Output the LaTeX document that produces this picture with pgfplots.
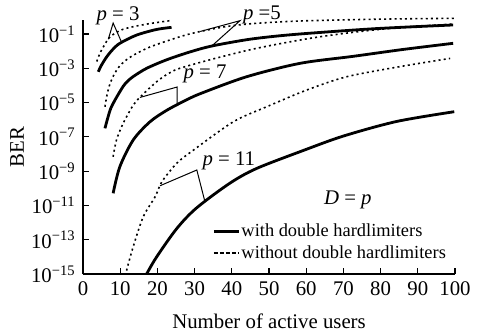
\documentclass[border=0pt]{standalone}
\usepackage{fontspec}
\setmainfont{Liberation Serif}
\usepackage{pgfplots}
\pgfplotsset{compat=1.18}
\newcommand{\tp}[1]{10\textsuperscript{#1}}
\newcommand{\fs}{\fontsize{10.4}{12.5}\selectfont}
\begin{document}
\fs
\begin{tikzpicture}
\useasboundingbox (-41.5pt,-29.5pt) rectangle (201pt,137pt);
\begin{axis}[
  at={(0pt,0pt)}, anchor=south west,
  scale only axis, width=186pt, height=127pt,
  ymode=log, xmin=0, xmax=100, ymin=1e-15, ymax=0.66,
  clip=false,
  axis x line=bottom, axis y line=left,
  axis line style={-, line width=0.7pt},
  xtick={0,10,...,100},
  ytick={1e-15,1e-13,1e-11,1e-9,1e-7,1e-5,1e-3,1e-1},
  yticklabels={\tp{−15},\tp{−13},\tp{−11},\tp{−9},\tp{−7},\tp{−5},\tp{−3},\tp{−1}},
  minor ytick={}, yminorticks=false,
  tick align=inside, major tick length=3pt,
  tick style={black, line width=0.6pt},
  /pgf/number format/assume math mode=true,
  ticklabel style={font=\fs},
  xlabel={Number of active users}, ylabel={BER},
  label style={font=\fs},
  xlabel style={at={(axis description cs:0.5,-0.185)}, anchor=center},
  ylabel style={at={(axis description cs:-0.177,0.5)}, anchor=center},
  legend image code/.code={\draw[#1] (0pt,0pt) -- (12.5pt,0pt);},
  legend style={draw=none, fill=none, at={(rel axis cs:0.347,0.212)}, anchor=north west,
    inner sep=0pt, font=\fontsize{9.2}{10}\selectfont,
    nodes={inner sep=0.6pt, text depth=0.2em, text height=0.72em}},
  legend cell align=left,
  solidc/.style={black, line width=1.4pt, smooth, tension=0.5},
  dotc/.style={black, line width=0.8pt, dash pattern=on 1pt off 1.6pt, smooth, tension=0.5},
]
% p = 3
\addplot[solidc, forget plot] coordinates {(4.1,6.31e-4) (5,1.58e-3) (6.4,4.79e-3) (8,1.26e-2) (9.9,2.88e-2) (14.4,8.71e-2) (19.8,0.186) (23.8,0.245)};
\addplot[dotc, forget plot] coordinates {(3.7,2.51e-3) (4.5,7.08e-3) (5.5,1.82e-2) (7.3,6.92e-2) (10.8,0.191) (17.1,0.380) (23.4,0.603)};
% p = 5
\addplot[solidc, forget plot] coordinates {(5.9,3.16e-7) (7.3,3.72e-6) (8.6,1.41e-5) (10.8,8.91e-5) (12,1.78e-4) (13.5,3.31e-4) (17.1,1.0e-3) (22.5,3.16e-3) (28.8,9.12e-3) (34.6,2.0e-2) (44,4.68e-2) (52,7.59e-2) (61,0.112) (79,0.209) (99.5,0.339)};
\addplot[dotc, forget plot] coordinates {(5.9,5.75e-6) (6.5,3.16e-5) (7.3,1.32e-4) (8.5,5.01e-4) (9.9,1.41e-3) (12,3.55e-3) (14.4,7.41e-3) (17.5,1.58e-2) (20.7,2.88e-2) (26.9,7.94e-2) (31.5,0.141) (38,0.263) (44,0.380) (52,0.501) (61,0.603) (80,0.741) (100,0.832)};
% p = 7
\addplot[solidc, forget plot] coordinates {(8.1,5.13e-11) (9.9,1.82e-9) (13.5,6.61e-8) (18,7.59e-7) (22.5,3.55e-6) (27,1.17e-5) (31.5,3.31e-5) (44,3.24e-4) (58.3,1.95e-3) (72.6,5.01e-3) (86,1.26e-2) (99.5,2.88e-2)};
\addplot[dotc, forget plot] coordinates {(8.1,6.92e-9) (9,6.61e-8) (10.8,6.17e-7) (13.5,7.24e-6) (15,1.78e-5) (19.8,1.66e-4) (23,5.01e-4) (26,1.0e-3) (35,3.55e-3) (46.7,1.48e-2) (61,5.62e-2) (72.6,0.126) (85,0.240) (99.5,0.380)};
% p = 11
\addplot[solidc, forget plot] coordinates {(17.1,1e-15) (19.8,1e-14) (25.2,4.47e-13) (30.5,7.08e-12) (39.5,2.0e-10) (46.7,1.45e-9) (59.5,1.70e-8) (70,1.12e-7) (84.3,7.94e-7) (99.8,2.95e-6)};
\addplot[dotc, forget plot] coordinates {(11.7,1.58e-15) (13.5,3.98e-14) (16.2,2.19e-12) (19.4,3.24e-11) (21.2,2.40e-10) (25.2,2.88e-9) (29.7,1.70e-8) (40.4,7.59e-7) (49.4,5.75e-6) (60.1,5.37e-5) (70.9,3.24e-4) (85.2,1.26e-3) (98.7,3.80e-3)};
% legend
\addlegendimage{black, line width=1.4pt}
\addlegendentry{with double hardlimiters}
\addlegendimage{black, line width=0.7pt, dash pattern=on 2pt off 1pt}
\addlegendentry{without double hardlimiters}
% annotations
\draw[line width=0.5pt] (axis cs:6.8,0.0501) -- (axis cs:8.1,0.437) -- (axis cs:10.4,0.0324);
\node[font=\fs] at (axis cs:9.4,1.12) {\textit{p} = 3};
\draw[line width=0.5pt] (axis cs:31.5,0.141) -- (axis cs:42.2,0.603) -- (axis cs:34.6,0.02);
\node[font=\fs] at (axis cs:48.1,1.29) {\textit{p} =5};
\draw[line width=0.5pt] (axis cs:15.3,2.0e-5) -- (axis cs:25.3,8.13e-5) -- (axis cs:25.3,6.76e-6);
\node[font=\fs] at (axis cs:32.8,4.68e-4) {\textit{p} = 7};
\draw[line width=0.5pt] (axis cs:20.7,1.41e-10) -- (axis cs:30.6,1.17e-9) -- (axis cs:32.8,1.58e-11);
\node[font=\fs] at (axis cs:39.2,3.89e-9) {\textit{p} = 11};
\node[font=\fs] at (axis cs:71.2,2.04e-11) {\textit{D} = \textit{p}};
\end{axis}
\end{tikzpicture}
\end{document}
